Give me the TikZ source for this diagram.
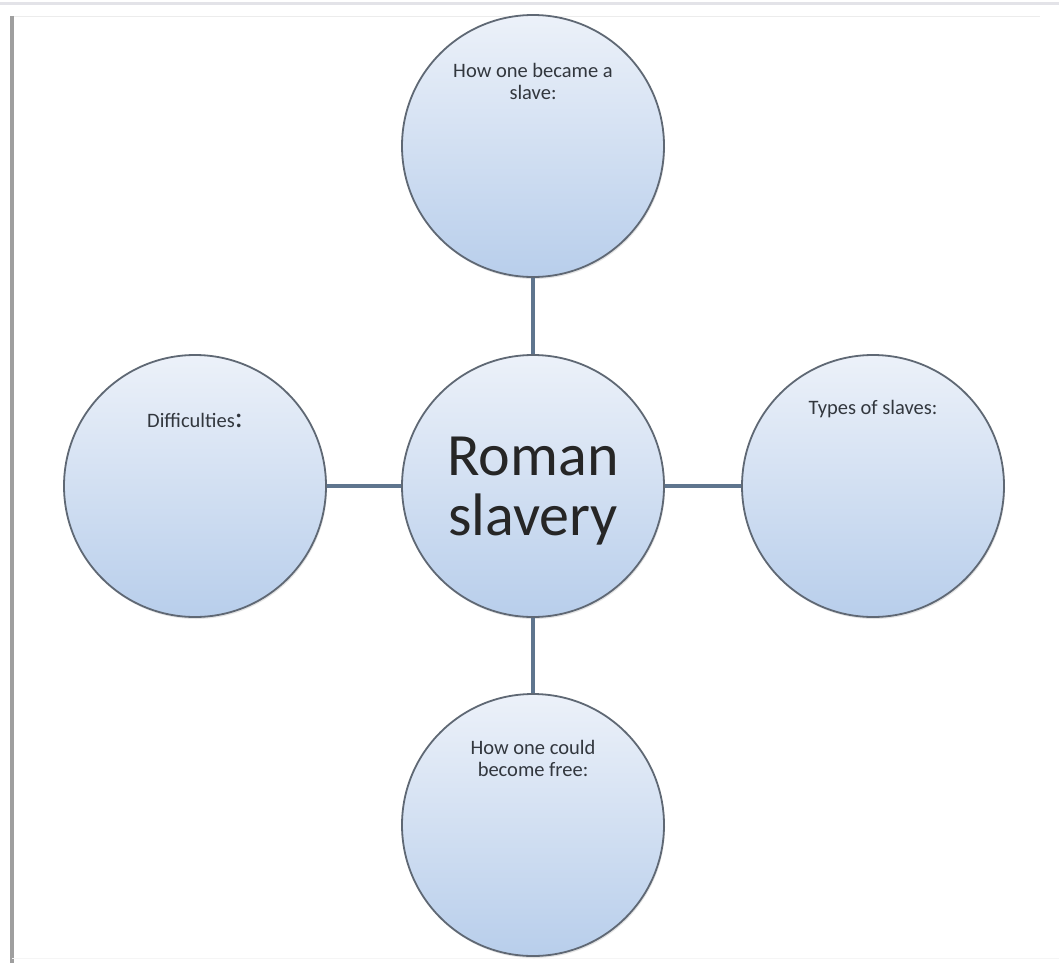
\documentclass[tikz,border=0pt]{standalone}
\usepackage{fontspec}
\setmainfont{Carlito}
\usetikzlibrary{positioning}
\usetikzlibrary{shadows}
\definecolor{circtop}{RGB}{236,241,249}
\definecolor{circbot}{RGB}{184,206,235}
\definecolor{circrim}{RGB}{95,104,116}
\definecolor{linkblue}{RGB}{95,117,142}
\definecolor{textgray}{RGB}{50,55,62}
\tikzset{topic/.style = {circle, draw=circrim, line width=1.8pt, minimum size=262pt,
                         top color=circtop, bottom color=circbot,
                         drop shadow={opacity=0.22, shadow xshift=1pt, shadow yshift=-2pt}},
         caption/.style = {align=center, inner sep=0pt, text=textgray,
                           font=\fontsize{20.5}{22}\selectfont},
         link/.style = {draw=linkblue, line width=4.5pt}}

\begin{document}
\begin{tikzpicture}[x=1pt, y=-1pt]
    \useasboundingbox (0, 0) rectangle (1059, 966);
    \fill [white] (0, 0) rectangle (1059, 966);

    % page edges
    \draw [line width=3pt, blue!8!gray!20] (0, 4) -- (1059, 4);
    \draw [line width=0.8pt, gray!15] (12, 16) -- (1040, 16);
    \draw [line width=3.5pt, gray!75] (12, 16) -- (12, 963);
    \draw [line width=1pt, gray!8] (12, 958) -- (1059, 958);

    \node [topic] (slavery) at (533, 486) {};
    \node [topic] (became) at (533, 146) {};
    \node [topic] (types) at (873, 486) {};
    \node [topic] (free) at (533, 825) {};
    \node [topic] (difficulties) at (195, 486) {};

    \draw [link] (became) -- (slavery);
    \draw [link] (slavery) -- (free);
    \draw [link] (difficulties) -- (slavery);
    \draw [link] (slavery) -- (types);

    \node [align=center, font=\fontsize{60}{60}\selectfont, text=black!85] (title) at (533, 491) {Roman\\slavery};
    \node [caption, below=49pt of became.north] (becamecap) {How one became a\\slave:};
    \node [caption, below=46pt of types.north] (typescap) {Types of slaves:};
    \node [caption, below=47pt of free.north] (freecap) {How one could\\become free:};
    \node [caption, below=59pt of difficulties.north] (difficultiescap) {Difficulties{\fontsize{30}{30}\selectfont :}};
\end{tikzpicture}
\end{document}
